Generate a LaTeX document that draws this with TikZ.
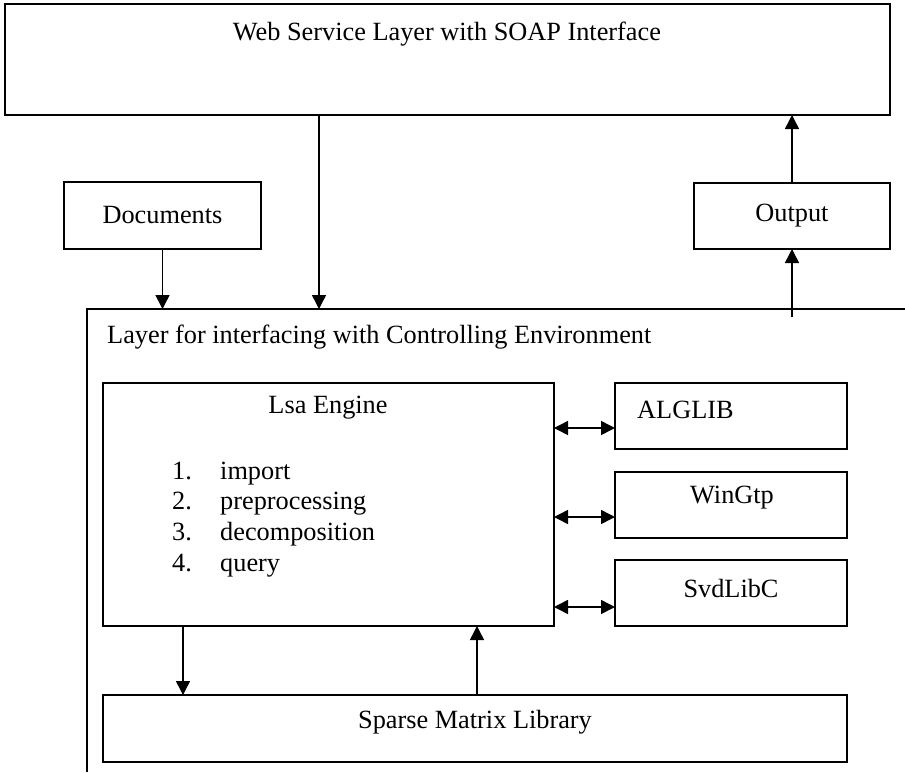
\documentclass[tikz,border=0pt]{standalone}
\usepackage{fontspec}
\setmainfont{Liberation Serif}
\usetikzlibrary{arrows.meta}
\begin{document}
\begin{tikzpicture}[x=1pt,y=-1pt,
  box/.style={draw, line width=1.5pt, anchor=north west, inner sep=0pt, outer sep=0pt},
  lbl/.style={font=\fontsize{26.3}{30}\selectfont, inner sep=0pt},
  arr/.style={line width=1.5pt, -{Triangle[width=14pt,length=14pt]}},
  darr/.style={line width=1.5pt, {Triangle[width=14pt,length=14pt]}-{Triangle[width=14pt,length=14pt]}}]
\useasboundingbox (0,0) rectangle (905,772);
% top layer
\node[box, line width=2pt, minimum width=885pt, minimum height=111pt] (web) at (5,4) {};
\node[lbl] (webt) at (447,34) {Web Service Layer with SOAP Interface};
% documents and output
\node[box, minimum width=197pt, minimum height=67pt] (docs) at (64,182) {};
\node[lbl] (docst) at (docs.center) {Documents};
\node[box, minimum width=196pt, minimum height=66pt] (out) at (694,183) {};
\node[lbl] (outt) at (out.center) {Output};
% controlling environment layer (open on right and bottom)
\coordinate (layerTL) at (87,309);
\coordinate (layerTR) at (905,309);
\coordinate (layerBL) at (87,772);
\draw[line width=1.5pt] (layerTR) -- (layerTL) -- (layerBL);
\node[lbl, anchor=west] (layert) at (107,337) {Layer for interfacing with Controlling Environment};
% Lsa engine
\node[box, minimum width=451pt, minimum height=243pt] (lsa) at (103,383) {};
\node[lbl] (lsat) at (328,408) {Lsa Engine};
\node[lbl, anchor=base west] (n1) at (172,479) {1.};
\node[lbl, anchor=base west] (i1) at (220,479) {import};
\node[lbl, anchor=base west] (n2) at (172,509.7) {2.};
\node[lbl, anchor=base west] (i2) at (220,509.7) {preprocessing};
\node[lbl, anchor=base west] (n3) at (172,540.4) {3.};
\node[lbl, anchor=base west] (i3) at (220,540.4) {decomposition};
\node[lbl, anchor=base west] (n4) at (172,571.1) {4.};
\node[lbl, anchor=base west] (i4) at (220,571.1) {query};
% libraries
\node[box, minimum width=232pt, minimum height=66pt] (alg) at (615,383) {};
\node[lbl, anchor=west] (algt) at (637,410) {ALGLIB};
\node[box, minimum width=232pt, minimum height=66pt] (win) at (615,472) {};
\node[lbl] (wint) at (732,498) {WinGtp};
\node[box, minimum width=232pt, minimum height=66pt] (svd) at (615,560) {};
\node[lbl] (svdt) at (731,588) {SvdLibC};
% sparse matrix library
\node[box, minimum width=744pt, minimum height=67pt] (sparse) at (103,695) {};
\node[lbl] (sparset) at (475,722) {Sparse Matrix Library};
% connectors
\coordinate (c1) at (319,0);
\draw[arr] (web.south -| c1) -- (layerTL -| c1);
\draw[arr] (docs.south) -- (docs.south |- layerTL);
\draw[arr] (out.north) -- (out.north |- web.south);
\coordinate (ostart) at (792,317);
\draw[arr] (out.south |- ostart) -- (out.south);
\coordinate (c2) at (183,0);
\coordinate (c3) at (477,0);
\draw[arr] (lsa.south -| c2) -- (sparse.north -| c2);
\draw[arr] (sparse.north -| c3) -- (lsa.south -| c3);
\coordinate (d1) at (0,428);
\coordinate (d2) at (0,517);
\coordinate (d3) at (0,607);
\draw[darr] (lsa.east |- d1) -- (alg.west |- d1);
\draw[darr] (lsa.east |- d2) -- (win.west |- d2);
\draw[darr] (lsa.east |- d3) -- (svd.west |- d3);
\end{tikzpicture}
\end{document}
